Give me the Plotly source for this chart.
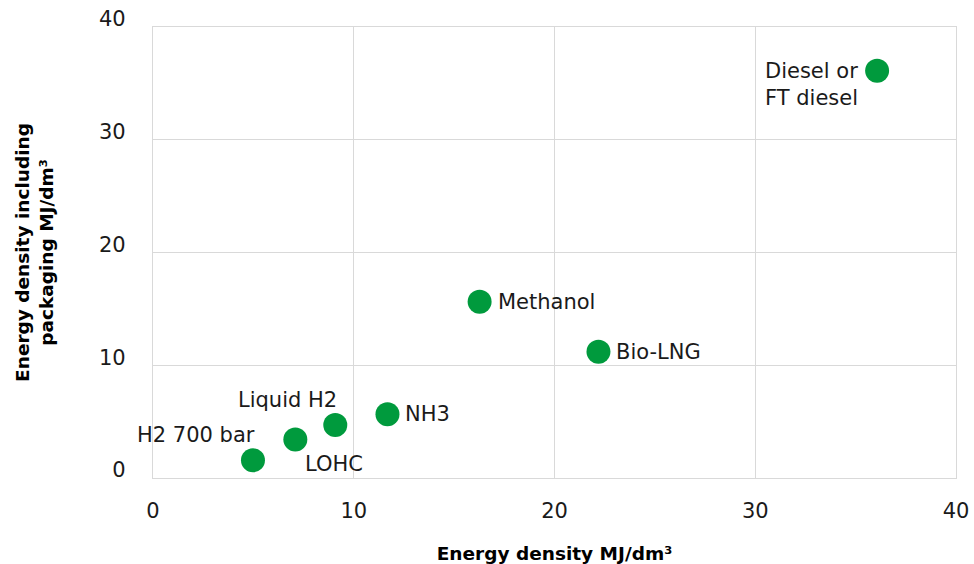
import plotly.graph_objects as go

# Fuel energy densities
fuels = ["H2 700 bar", "LOHC", "Liquid H2", "NH3", "Methanol", "Bio-LNG", "Diesel or<br>FT diesel"]
energy_density = [4.98, 7.09, 9.08, 11.68, 16.27, 22.19, 36.07]
energy_density_packaged = [1.57, 3.41, 4.71, 5.66, 15.63, 11.19, 36.12]

# label placement per point: (xanchor, yanchor, xshift, yshift, align)
label_pos = [
    ("right", "middle", 4, 25, "right"),
    ("left", "middle", 8, -24, "left"),
    ("right", "middle", 4, 25, "right"),
    ("left", "middle", 16, 0, "left"),
    ("left", "middle", 16, 0, "left"),
    ("left", "middle", 16, 0, "left"),
    ("right", "top", -17, 14, "left"),
]

GREEN = "#009a3d"
GRID = "#d9d9d9"
FONT = "DejaVu Sans, Arial, sans-serif"
TITLE_FONT = "DejaVu Sans, Arial, sans-serif"

fig = go.Figure(
    go.Scatter(
        x=energy_density,
        y=energy_density_packaged,
        mode="markers",
        marker=dict(size=24, color=GREEN, line=dict(width=0)),
        hovertext=fuels,
        showlegend=False,
    )
)

for name, xv, yv, (xa, ya, xs, ys, al) in zip(fuels, energy_density, energy_density_packaged, label_pos):
    fig.add_annotation(
        x=xv, y=yv, text=name, showarrow=False,
        xanchor=xa, yanchor=ya, xshift=xs, yshift=ys, align=al,
        font=dict(family=FONT, size=21, color="#1a1a1a"),
    )

axis_common = dict(
    range=[0, 40], dtick=10, tick0=0,
    showgrid=True, gridcolor=GRID, gridwidth=1.3,
    showline=True, linecolor=GRID, linewidth=1.3, mirror=True,
    zeroline=False, ticks="", automargin=False,
    tickfont=dict(family=FONT, size=21, color="#1a1a1a"),
)

fig.update_layout(
    width=974, height=564,
    margin=dict(l=153, r=18, t=27, b=86),
    plot_bgcolor="white", paper_bgcolor="white",
    xaxis=dict(
        **axis_common,
        ticklabelstandoff=14,
        title=dict(text="<b>Energy density MJ/dm³</b>",
                   font=dict(family=TITLE_FONT, size=18.5, color="black"), standoff=26),
    ),
    yaxis=dict(
        **axis_common,
        ticklabelstandoff=22,
        ticklabelshift=-8,
        title=dict(text="<b>Energy density including<br>packaging MJ/dm³</b>",
                   font=dict(family=TITLE_FONT, size=18.5, color="black"), standoff=40),
    ),
)

fig.write_html("out.html")
